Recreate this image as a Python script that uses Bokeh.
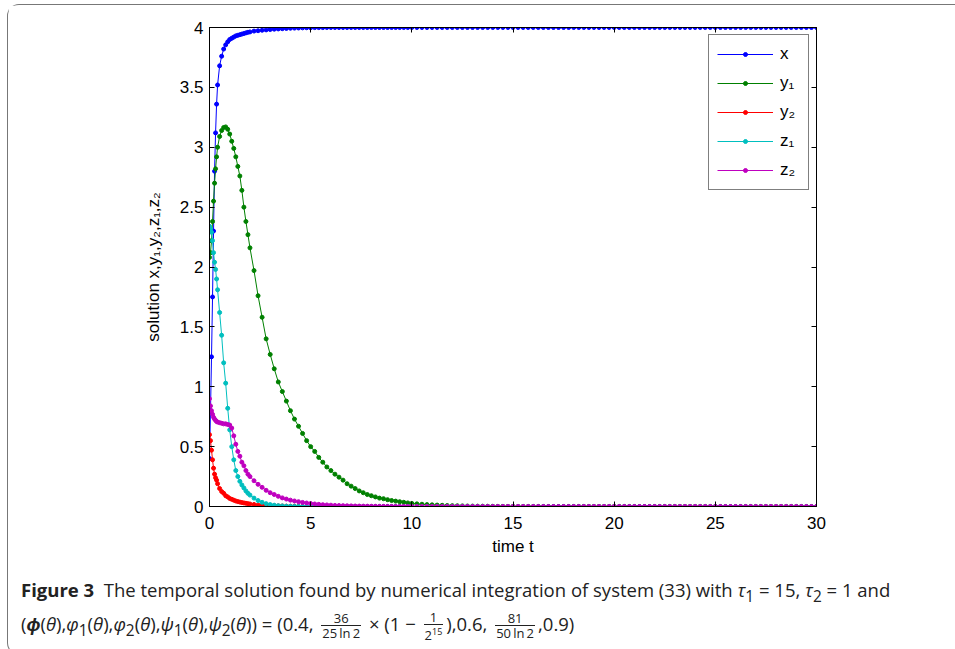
from bokeh.plotting import figure
from bokeh.models import LinearAxis, FixedTicker, Range1d, Div, Legend
from bokeh.layouts import column
from bokeh.embed import file_html
from bokeh.resources import INLINE

# ---------------- data ----------------
t_early = [0.0, 0.05, 0.1, 0.15, 0.2, 0.25, 0.3, 0.35, 0.4, 0.5, 0.6, 0.7, 0.8, 0.9, 1.0,
           1.1, 1.2, 1.3, 1.4, 1.5, 1.6, 1.7, 1.8, 1.9, 2.0]
t_mid = [2.2, 2.4, 2.6, 2.8, 3.0, 3.2, 3.4, 3.6, 3.8, 4.0, 4.2, 4.4, 4.6, 4.8, 5.0, 5.2, 5.4, 5.6,
         5.8, 6.0, 6.2, 6.4, 6.6, 6.8, 7.0, 7.2, 7.4, 7.6, 7.8, 8.0, 8.2, 8.4, 8.6, 8.8, 9.0, 9.2,
         9.4, 9.6, 9.8, 10.0]
t_late = [10.25, 10.5, 10.75, 11.0, 11.25, 11.5, 11.75, 12.0, 12.25, 12.5, 12.75, 13.0, 13.25,
          13.5, 13.75, 14.0, 14.25, 14.5, 14.75, 15.0, 15.25, 15.5, 15.75, 16.0, 16.25, 16.5,
          16.75, 17.0, 17.25, 17.5, 17.75, 18.0, 18.25, 18.5, 18.75, 19.0, 19.25, 19.5, 19.75,
          20.0, 20.25, 20.5, 20.75, 21.0, 21.25, 21.5, 21.75, 22.0, 22.25, 22.5, 22.75, 23.0,
          23.25, 23.5, 23.75, 24.0, 24.25, 24.5, 24.75, 25.0, 25.25, 25.5, 25.75, 26.0, 26.25,
          26.5, 26.75, 27.0, 27.25, 27.5, 27.75, 28.0, 28.25, 28.5, 28.75, 29.0, 29.25, 29.5,
          29.75, 30.0]

x_vals = [0.40, 0.80, 1.25, 1.75, 2.30, 2.80, 3.12, 3.36, 3.52, 3.68, 3.76, 3.82, 3.855, 3.88,
          3.90, 3.91, 3.92, 3.93, 3.935, 3.94, 3.945, 3.95, 3.955, 3.96, 3.963,
          3.97, 3.973, 3.977, 3.98, 3.983, 3.986, 3.988, 3.99, 3.992, 3.994, 3.995, 3.996, 3.997,
          3.998, 3.998, 3.999, 3.999, 3.999,
          4.0, 4.0, 4.0, 4.0, 4.0, 4.0, 4.0, 4.0, 4.0, 4.0, 4.0, 4.0, 4.0, 4.0, 4.0, 4.0, 4.0,
          4.0, 4.0, 4.0, 4.0, 4.0,
          4.0, 4.0, 4.0, 4.0, 4.0, 4.0, 4.0, 4.0, 4.0, 4.0, 4.0, 4.0, 4.0, 4.0, 4.0, 4.0, 4.0,
          4.0, 4.0, 4.0, 4.0, 4.0, 4.0, 4.0, 4.0, 4.0, 4.0, 4.0, 4.0, 4.0, 4.0, 4.0, 4.0, 4.0,
          4.0, 4.0, 4.0, 4.0, 4.0, 4.0, 4.0, 4.0, 4.0, 4.0, 4.0, 4.0, 4.0, 4.0, 4.0, 4.0, 4.0,
          4.0, 4.0, 4.0, 4.0, 4.0, 4.0, 4.0, 4.0, 4.0, 4.0, 4.0, 4.0, 4.0, 4.0, 4.0, 4.0, 4.0,
          4.0, 4.0, 4.0, 4.0, 4.0, 4.0, 4.0, 4.0, 4.0, 4.0, 4.0, 4.0]

y1_vals = [2.08, 2.12, 2.22, 2.38, 2.55, 2.70, 2.82, 2.92, 3.00, 3.09, 3.14, 3.165, 3.17, 3.15,
           3.11, 3.05, 2.99, 2.92, 2.84, 2.76, 2.64, 2.50, 2.38, 2.27, 2.16,
           1.97, 1.76, 1.58, 1.40, 1.27, 1.15, 1.04, 0.96, 0.88, 0.80, 0.73, 0.67, 0.61, 0.55,
           0.50, 0.46, 0.41, 0.37, 0.33, 0.30, 0.27, 0.245, 0.22, 0.19, 0.17, 0.15, 0.13, 0.115,
           0.10, 0.09, 0.08, 0.07, 0.065, 0.057, 0.05, 0.045, 0.04, 0.035, 0.03, 0.026,
           0.022, 0.019, 0.016, 0.014, 0.012, 0.010, 0.008, 0.007, 0.006, 0.005, 0.004, 0.0035,
           0.003, 0.0025, 0.002, 0.0015, 0.001, 0.001, 0.0005, 0.0,
           0.0, 0.0, 0.0, 0.0, 0.0, 0.0, 0.0, 0.0, 0.0, 0.0, 0.0, 0.0, 0.0, 0.0, 0.0, 0.0, 0.0,
           0.0, 0.0, 0.0, 0.0, 0.0, 0.0, 0.0, 0.0, 0.0, 0.0, 0.0, 0.0, 0.0, 0.0, 0.0, 0.0, 0.0,
           0.0, 0.0, 0.0, 0.0, 0.0, 0.0, 0.0, 0.0, 0.0, 0.0, 0.0, 0.0, 0.0, 0.0, 0.0, 0.0, 0.0,
           0.0, 0.0, 0.0, 0.0, 0.0, 0.0, 0.0, 0.0, 0.0]

y2_vals = [0.60, 0.55, 0.47, 0.39, 0.32, 0.27, 0.24, 0.22, 0.19, 0.15, 0.125, 0.11, 0.09, 0.08,
           0.067, 0.06, 0.053, 0.046, 0.041, 0.037, 0.033, 0.03, 0.027, 0.024, 0.021,
           0.017, 0.013, 0.011, 0.009, 0.007, 0.006, 0.005, 0.004, 0.003, 0.0025, 0.002, 0.0015,
           0.001, 0.001, 0.0008,
           0.0, 0.0, 0.0, 0.0, 0.0, 0.0, 0.0, 0.0, 0.0, 0.0, 0.0, 0.0, 0.0, 0.0, 0.0, 0.0, 0.0,
           0.0, 0.0, 0.0, 0.0, 0.0, 0.0, 0.0, 0.0,
           0.0, 0.0, 0.0, 0.0, 0.0, 0.0, 0.0, 0.0, 0.0, 0.0, 0.0, 0.0, 0.0, 0.0, 0.0, 0.0, 0.0,
           0.0, 0.0, 0.0, 0.0, 0.0, 0.0, 0.0, 0.0, 0.0, 0.0, 0.0, 0.0, 0.0, 0.0, 0.0, 0.0, 0.0,
           0.0, 0.0, 0.0, 0.0, 0.0, 0.0, 0.0, 0.0, 0.0, 0.0, 0.0, 0.0, 0.0, 0.0, 0.0, 0.0, 0.0,
           0.0, 0.0, 0.0, 0.0, 0.0, 0.0, 0.0, 0.0, 0.0, 0.0, 0.0, 0.0, 0.0, 0.0, 0.0, 0.0, 0.0,
           0.0, 0.0, 0.0, 0.0, 0.0, 0.0, 0.0, 0.0, 0.0, 0.0, 0.0, 0.0]

z1_vals = [2.34, 2.32, 2.29, 2.22, 2.12, 2.04, 1.98, 1.90, 1.81, 1.62, 1.43, 1.20, 1.03, 0.82,
           0.64, 0.50, 0.39, 0.30, 0.25, 0.21, 0.18, 0.155, 0.13, 0.11, 0.095,
           0.07, 0.05, 0.035, 0.024, 0.016, 0.011, 0.007, 0.005, 0.003, 0.002, 0.001, 0.001,
           0.0, 0.0, 0.0, 0.0, 0.0, 0.0, 0.0, 0.0, 0.0, 0.0, 0.0, 0.0, 0.0, 0.0, 0.0, 0.0, 0.0,
           0.0, 0.0, 0.0, 0.0, 0.0, 0.0, 0.0, 0.0, 0.0, 0.0, 0.0,
           0.0, 0.0, 0.0, 0.0, 0.0, 0.0, 0.0, 0.0, 0.0, 0.0, 0.0, 0.0, 0.0, 0.0, 0.0, 0.0, 0.0,
           0.0, 0.0, 0.0, 0.0, 0.0, 0.0, 0.0, 0.0, 0.0, 0.0, 0.0, 0.0, 0.0, 0.0, 0.0, 0.0, 0.0,
           0.0, 0.0, 0.0, 0.0, 0.0, 0.0, 0.0, 0.0, 0.0, 0.0, 0.0, 0.0, 0.0, 0.0, 0.0, 0.0, 0.0,
           0.0, 0.0, 0.0, 0.0, 0.0, 0.0, 0.0, 0.0, 0.0, 0.0, 0.0, 0.0, 0.0, 0.0, 0.0, 0.0, 0.0,
           0.0, 0.0, 0.0, 0.0, 0.0, 0.0, 0.0, 0.0, 0.0, 0.0, 0.0, 0.0]

z2_vals = [0.90, 0.84, 0.80, 0.77, 0.745, 0.73, 0.72, 0.71, 0.705, 0.70, 0.695, 0.69, 0.69,
           0.685, 0.68, 0.655, 0.59, 0.52, 0.46, 0.42, 0.37, 0.34, 0.30, 0.27, 0.25,
           0.215, 0.185, 0.16, 0.135, 0.115, 0.10, 0.085, 0.072, 0.062, 0.053, 0.046, 0.040,
           0.034, 0.029, 0.025, 0.021, 0.018, 0.015, 0.013, 0.011, 0.009, 0.008, 0.007, 0.006,
           0.005, 0.004, 0.0035, 0.003, 0.0025, 0.002, 0.0017, 0.0014, 0.0012, 0.001, 0.001,
           0.0, 0.0, 0.0, 0.0, 0.0,
           0.0, 0.0, 0.0, 0.0, 0.0, 0.0, 0.0, 0.0, 0.0, 0.0, 0.0, 0.0, 0.0, 0.0, 0.0, 0.0, 0.0,
           0.0, 0.0, 0.0, 0.0, 0.0, 0.0, 0.0, 0.0, 0.0, 0.0, 0.0, 0.0, 0.0, 0.0, 0.0, 0.0, 0.0,
           0.0, 0.0, 0.0, 0.0, 0.0, 0.0, 0.0, 0.0, 0.0, 0.0, 0.0, 0.0, 0.0, 0.0, 0.0, 0.0, 0.0,
           0.0, 0.0, 0.0, 0.0, 0.0, 0.0, 0.0, 0.0, 0.0, 0.0, 0.0, 0.0, 0.0, 0.0, 0.0, 0.0, 0.0,
           0.0, 0.0, 0.0, 0.0, 0.0, 0.0, 0.0, 0.0, 0.0, 0.0, 0.0, 0.0]

series_names = ["x", "y\u2081", "y\u2082", "z\u2081", "z\u2082"]
series_colors = ["#0000ff", "#008000", "#ff0000", "#00bfbf", "#bf00bf"]

x_ticks = [0, 5, 10, 15, 20, 25, 30]
y_ticks = [0, 0.5, 1, 1.5, 2, 2.5, 3, 3.5, 4]
y_tick_labels = ["0", "0.5", "1", "1.5", "2", "2.5", "3", "3.5", "4"]

t_all = t_early + t_mid + t_late
series_vals = [x_vals, y1_vals, y2_vals, z1_vals, z2_vals]

FONT = "Liberation Sans"

p = figure(width=938, height=561, output_backend="svg", toolbar_location=None,
           x_range=Range1d(0, 30), y_range=Range1d(0, 4),
           min_border_left=201, min_border_right=130, min_border_top=22, min_border_bottom=60)
p.background_fill_color = "white"
p.border_fill_color = "white"
p.outline_line_color = "black"
p.outline_line_width = 1
p.xgrid.visible = False
p.ygrid.visible = False

legend_items = []
for name, col, vals in zip(series_names, series_colors, series_vals):
    r1 = p.line(t_all, vals, line_color=col, line_width=1)
    r2 = p.scatter(t_all, vals, marker="circle", size=4, fill_color=col, line_color=col)
    legend_items.append((name, [r1, r2]))

for ax in (p.xaxis[0], p.yaxis[0]):
    ax.major_tick_in = 5
    ax.major_tick_out = 0
    ax.minor_tick_line_color = None
    ax.axis_line_color = "black"
    ax.major_tick_line_color = "black"
    ax.major_label_text_font = FONT
    ax.major_label_text_font_size = "17px"
    ax.major_label_text_color = "black"
    ax.axis_label_text_font = FONT
    ax.axis_label_text_font_size = "17px"
    ax.axis_label_text_font_style = "normal"
    ax.axis_label_text_color = "black"

p.xaxis[0].ticker = FixedTicker(ticks=x_ticks)
p.yaxis[0].ticker = FixedTicker(ticks=y_ticks)
p.yaxis[0].major_label_overrides = {v: s for v, s in zip(y_ticks, y_tick_labels)}
p.xaxis[0].axis_label = "time t"
p.yaxis[0].axis_label = "solution x,y\u2081,y\u2082,z\u2081,z\u2082"
p.xaxis[0].major_label_standoff = 10
p.yaxis[0].major_label_standoff = 6
p.xaxis[0].axis_label_standoff = 5
p.yaxis[0].axis_label_standoff = 14

# mirrored inner ticks on top and right (no labels)
for loc, ticks in (("above", x_ticks), ("right", y_ticks)):
    ax = LinearAxis(ticker=FixedTicker(ticks=ticks))
    ax.major_tick_in = 5
    ax.major_tick_out = 0
    ax.minor_tick_line_color = None
    ax.major_label_text_color = None
    ax.major_label_text_font_size = "1px"
    ax.major_label_standoff = 0
    ax.axis_line_color = "black"
    p.add_layout(ax, loc)

legend = Legend(items=legend_items, location="top_right")
legend.label_text_font = FONT
legend.label_text_font_size = "17px"
legend.label_text_color = "black"
legend.border_line_color = "black"
legend.border_line_width = 1
legend.glyph_width = 56
legend.glyph_height = 10
legend.label_height = 22
legend.label_standoff = 7
legend.spacing = 7
legend.padding = 8
legend.margin = 7
p.add_layout(legend)

frac = ("<span style='display:inline-block;vertical-align:middle;text-align:center;"
        "font-size:13px;line-height:14px;margin:0 3px'>"
        "<span style='display:block;border-bottom:1px solid #222;padding:0 1px'>{}</span>"
        "<span style='display:block;padding:0 1px'>{}</span></span>")

caption_html = (
    "<div style=\"font-family:'Open Sans',sans-serif;font-size:18.5px;"
    "line-height:26px;color:#222;padding-left:8px;padding-top:6px;white-space:nowrap\">"
    "<b>Figure 3</b>&nbsp; The temporal solution found by numerical integration of system (33) "
    "with <i>\u03c4</i><sub>1</sub> = 15, <i>\u03c4</i><sub>2</sub> = 1 and<br>"
    "(<b><i>\u03d5</i></b>(<i>\u03b8</i>),<i>\u03c6</i><sub>1</sub>(<i>\u03b8</i>),"
    "<i>\u03c6</i><sub>2</sub>(<i>\u03b8</i>),<i>\u03c8</i><sub>1</sub>(<i>\u03b8</i>),"
    "<i>\u03c8</i><sub>2</sub>(<i>\u03b8</i>)) = (0.4, "
    + frac.format("36", "25&thinsp;ln&thinsp;2")
    + " \u00d7 (1 \u2212 " + frac.format("1", "2<sup style='font-size:9px'>15</sup>") + "),0.6, "
    + frac.format("81", "50&thinsp;ln&thinsp;2") + ",0.9)</div>"
)
caption = Div(text=caption_html, width=938, height=78)

layout = column(p, caption, styles={
    "margin-left": "7px", "margin-top": "4px",
    "border-left": "1px solid #777", "border-top": "1px solid #777",
    "border-bottom": "1px solid #777", "border-top-left-radius": "12px",
    "border-bottom-left-radius": "12px"})

open("out.html", "w").write(file_html(layout, INLINE))
